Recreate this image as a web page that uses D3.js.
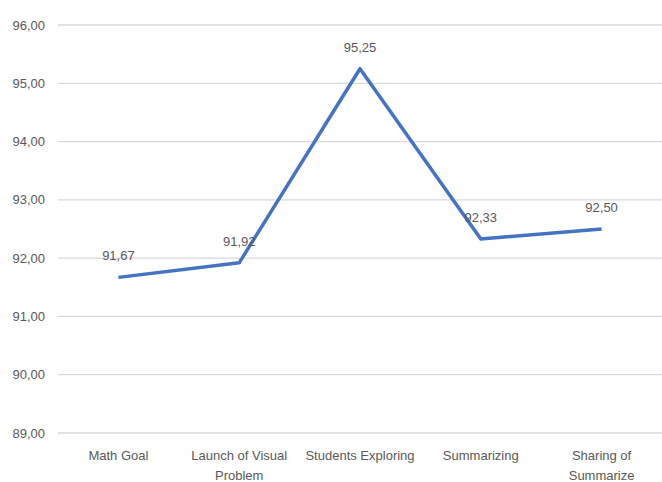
<!DOCTYPE html>
<html>
<head>
<meta charset="utf-8">
<script src="https://cdn.jsdelivr.net/npm/d3@7"></script>
<style>
  body { margin: 0; background: #fff; }
  text { font-family: "Liberation Sans Narrow", "Liberation Sans", sans-serif; fill: #595959; }
</style>
</head>
<body>
<div id="chart"></div>
<script>
(function(){
	var width = 662,
	    height = 482;

	// categories and values
	var categories = ["Math Goal", "Launch of Visual Problem", "Students Exploring", "Summarizing", "Sharing of Summarize"];
	var categoryLines = [["Math Goal"], ["Launch of Visual", "Problem"], ["Students Exploring"], ["Summarizing"], ["Sharing of", "Summarize"]];
	var scores = [91.67, 91.92, 95.25, 92.33, 92.50];
	var yTicks = [89, 90, 91, 92, 93, 94, 95, 96];

	var fmt = function(v) { return d3.format(".2f")(v).replace(".", ","); };

	var svg = d3.select("#chart")
	  .append("svg")
	  .attr("width", width)
	  .attr("height", height);

	var x = d3.scaleBand().domain(categories).range([58, 662]);
	var y = d3.scaleLinear().domain([89, 96]).range([433, 25]);

	// gridlines
	svg.selectAll(".grid")
	  .data(yTicks)
	  .enter().append("line")
	  .attr("x1", 58)
	  .attr("x2", 662)
	  .attr("y1", function(d) { return y(d) })
	  .attr("y2", function(d) { return y(d) })
	  .attr("stroke", "#d9d9d9")
	  .attr("stroke-width", 1.3);

	// y labels
	svg.selectAll(".ylab")
	  .data(yTicks)
	  .enter().append("text")
	  .attr("x", 45)
	  .attr("y", function(d) { return y(d) + 4.5 })
	  .attr("text-anchor", "end")
	  .style("font-size", "13px")
	  .text(function(d) { return fmt(d) });

	// x labels
	var xl = svg.selectAll(".xlab")
	  .data(categories)
	  .enter().append("text")
	  .attr("text-anchor", "middle")
	  .attr("x", function(d) { return x(d) + x.bandwidth() / 2 })
	  .attr("y", 460)
	  .style("font-size", "13px");
	xl.each(function(d, i) {
		var t = d3.select(this);
		categoryLines[i].forEach(function(line, j) {
			t.append("tspan")
			  .attr("x", x(d) + x.bandwidth() / 2)
			  .attr("dy", j === 0 ? 0 : 20)
			  .text(line);
		});
	});

	var points = categories.map(function(c, i) { return { cat: c, v: scores[i] } });

	var line = d3.line()
	  .x(function(d) { return x(d.cat) + x.bandwidth() / 2 })
	  .y(function(d) { return y(d.v) });

	svg.append("path")
	  .datum(points)
	  .attr("d", line)
	  .attr("fill", "none")
	  .attr("stroke", "#4472c4")
	  .attr("stroke-width", 3.5)
	  .attr("stroke-linejoin", "round");

	// data labels
	svg.selectAll(".dlab")
	  .data(points)
	  .enter().append("text")
	  .attr("text-anchor", "middle")
	  .attr("x", function(d) { return x(d.cat) + x.bandwidth() / 2 })
	  .attr("y", function(d) { return y(d.v) - 17 })
	  .style("font-size", "13px")
	  .text(function(d) { return fmt(d.v) });
})();
</script>
</body>
</html>
